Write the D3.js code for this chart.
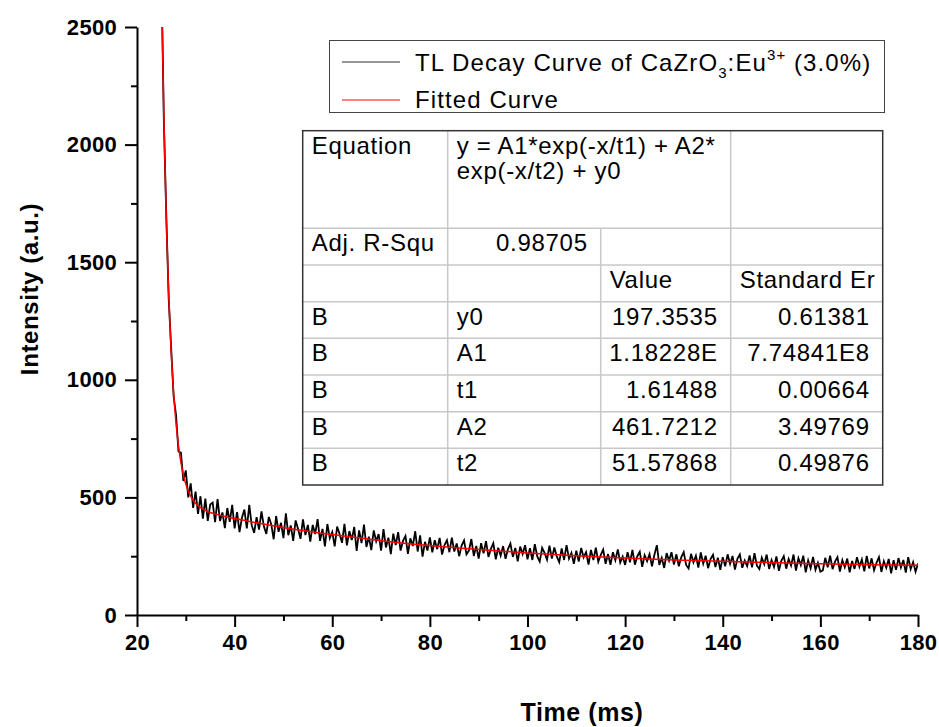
<!DOCTYPE html>
<html>
<head>
<meta charset="utf-8">
<style>
  body { margin: 0; background: #fff; }
  svg text { font-family: Arial, "Liberation Sans", sans-serif; fill: #000; }
  .axis path, .axis line { stroke: #000; stroke-width: 2; }
  .axis text { font-size: 22px; font-weight: bold; letter-spacing: 0.3px; }
  .title { font-size: 24px; font-weight: bold; letter-spacing: 0.6px; }
  .legend text { font-size: 24px; letter-spacing: 1.1px; }
  .tbl text { font-size: 24px; letter-spacing: 0.7px; }
</style>
</head>
<body>
<script src="https://cdnjs.cloudflare.com/ajax/libs/d3/7.8.5/d3.min.js"></script>
<svg width="939" height="727"></svg>
<script>
// recorded TL decay, sampled every 0.5 ms starting at 25 ms
var startTime = 25, sampleStep = 0.5;
var decayIntensity = [
  2730, 2100, 1700, 1340, 1135, 930, 850, 695, 690, 570, 615, 500, 560, 455, 525, 430, 505, 410, 495, 400, 470,
  478, 395, 493, 400, 436, 369, 455, 396, 468, 368,
  437, 352, 414, 448, 368, 468, 382, 349, 416, 363,
  441, 376, 345, 417, 386, 322, 421, 354, 392, 327,
  432, 339, 381, 315, 402, 366, 324, 407, 340, 383,
  312, 383, 344, 408, 315, 366, 292, 387, 327, 353,
  292, 376, 344, 307, 388, 296, 357, 319, 375, 273,
  360, 306, 384, 289, 333, 276, 360, 313, 344, 274,
  365, 287, 329, 259, 346, 297, 352, 274, 315, 336,
  260, 326, 293, 356, 270, 339, 248, 311, 274, 330,
  266, 318, 280, 328, 257, 297, 318, 267, 329, 270,
  304, 250, 295, 317, 258, 274, 323, 251, 294, 240,
  305, 262, 314, 247, 281, 305, 237, 286, 252, 293,
  239, 280, 304, 247, 285, 228, 291, 259, 297, 237,
  284, 234, 301, 249, 227, 285, 264, 235, 295, 240,
  287, 249, 225, 283, 234, 297, 240, 264, 218, 273,
  227, 285, 245, 267, 214, 277, 234, 286, 226, 255,
  278, 218, 259, 213, 267, 233, 279, 223, 249, 213,
  267, 224, 277, 214, 250, 269, 205, 254, 229, 259,
  207, 256, 297, 213, 243, 200, 263, 231, 267, 214,
  258, 207, 245, 267, 213, 198, 260, 224, 252, 202,
  266, 218, 252, 199, 238, 256, 204, 244, 192, 246,
  207, 258, 217, 251, 193, 239, 258, 201, 232, 208,
  253, 203, 263, 210, 195, 244, 216, 257, 196, 234,
  204, 249, 188, 230, 250, 197, 238, 210, 257, 189,
  242, 212, 252, 181, 232, 199, 247, 192, 222, 184,
  190, 243, 203, 252, 195, 227, 246, 185, 233, 203,
  240, 181, 230, 196, 246, 205, 236, 186, 251, 198,
  241, 190, 222, 246, 183, 229, 201, 238, 177, 233,
  192, 242, 202, 234, 180, 246, 195, 225, 184, 219
];

// fitted curve
var fitTime = [25.15, 25.5, 26, 26.5, 27, 27.5, 28, 28.5, 29, 29.5, 30, 30.5, 31, 31.5, 32, 32.5, 33, 34, 35, 36, 38,
               40, 45, 50, 55, 60, 70, 80, 90, 100, 110, 120, 130, 140, 150, 160, 170, 180];
var fitIntensity = [2518, 2119, 1680, 1357, 1119, 944, 814, 719, 648, 596, 557, 527, 505, 488, 475, 465, 457, 445, 436, 430, 419,
                    410, 390, 372, 356, 342, 316, 295, 278, 264, 252, 242, 234, 228, 223, 218, 214, 211];

var xTicks = [20, 40, 60, 80, 100, 120, 140, 160, 180];
var xMinor = [30, 50, 70, 90, 110, 130, 150, 170];
var yTicks = [0, 500, 1000, 1500, 2000, 2500];
var yMinor = [250, 750, 1250, 1750, 2250];

var tableSample = ["B", "B", "B", "B", "B"];
var tableParam = ["y0", "A1", "t1", "A2", "t2"];
var tableValue = ["197.3535", "1.18228E", "1.61488", "461.7212", "51.57868"];
var tableError = ["0.61381", "7.74841E8", "0.00664", "3.49769", "0.49876"];
var adjR2 = "0.98705";

var svg = d3.select("svg");
var x = d3.scaleLinear().domain([20, 180]).range([137, 918]);
var y = d3.scaleLinear().domain([0, 2500]).range([615, 27]);

svg.append("defs").append("clipPath").attr("id", "plot")
  .append("rect").attr("x", 137).attr("y", 27).attr("width", 781).attr("height", 588);

// minor ticks
svg.append("g").attr("class", "axis").attr("transform", "translate(0,615)")
  .call(d3.axisBottom(x).tickValues(xMinor).tickSize(6).tickFormat(""))
  .select(".domain").remove();
svg.append("g").attr("class", "axis").attr("transform", "translate(137,0)")
  .call(d3.axisLeft(y).tickValues(yMinor).tickSize(6).tickFormat(""))
  .select(".domain").remove();

// major ticks + axis lines
svg.append("g").attr("class", "axis").attr("transform", "translate(0,615)")
  .call(d3.axisBottom(x).tickValues(xTicks).tickSize(12).tickSizeOuter(0).tickPadding(7)
    .tickFormat(d3.format("d")));
svg.append("g").attr("class", "axis").attr("transform", "translate(137,0)")
  .call(d3.axisLeft(y).tickValues(yTicks).tickSize(12).tickSizeOuter(0).tickPadding(8)
    .tickFormat(d3.format("d")));

// curves
var line = d3.line()
  .x(function(d) { return x(d[0]); })
  .y(function(d) { return y(d[1]); });

var decay = decayIntensity.map(function(v, i) { return [startTime + i * sampleStep, v]; });
var fit = fitTime.map(function(t, i) { return [t, fitIntensity[i]]; });

svg.append("path").datum(decay)
  .attr("clip-path", "url(#plot)")
  .attr("fill", "none").attr("stroke", "#000").attr("stroke-width", 1.8)
  .attr("stroke-linejoin", "miter")
  .attr("d", line);

svg.append("path").datum(fit)
  .attr("clip-path", "url(#plot)")
  .attr("fill", "none").attr("stroke", "#ff0000").attr("stroke-width", 1.5)
  .attr("d", line.curve(d3.curveMonotoneX));

// axis titles
svg.append("text").attr("class", "title")
  .attr("transform", "translate(38,289) rotate(-90)")
  .attr("text-anchor", "middle")
  .text("Intensity (a.u.)");
svg.append("text").attr("class", "title")
  .attr("x", 582).attr("y", 721).attr("text-anchor", "middle")
  .style("font-size", "25px")
  .text("Time (ms)");

// legend
var lg = svg.append("g").attr("class", "legend");
lg.append("rect").attr("x", 329.5).attr("y", 40.5).attr("width", 555).attr("height", 72)
  .attr("fill", "#fff").attr("stroke", "#444").attr("stroke-width", 1);
lg.append("line").attr("x1", 342).attr("x2", 400).attr("y1", 62).attr("y2", 62)
  .attr("stroke", "#333").attr("stroke-width", 1);
lg.append("line").attr("x1", 342).attr("x2", 400).attr("y1", 100).attr("y2", 100)
  .attr("stroke", "#ff0000").attr("stroke-width", 1);
var t1 = lg.append("text").attr("x", 415).attr("y", 70.5);
t1.append("tspan").text("TL Decay Curve of CaZrO");
t1.append("tspan").attr("dy", 7).style("font-size", "15px").text("3");
t1.append("tspan").attr("dy", -7).text(":Eu");
t1.append("tspan").attr("dy", -11).style("font-size", "15px").text("3+");
t1.append("tspan").attr("dy", 11).text(" (3.0%)");
lg.append("text").attr("x", 415).attr("y", 108).text("Fitted Curve");

// fit results table
var colX = [302.7, 447.7, 600.7, 730.7, 882.7];
var rowY = [130.7, 228.3, 265, 301.7, 338.3, 375, 411.7, 448.3, 485];
var tb = svg.append("g").attr("class", "tbl");
tb.append("rect").attr("x", colX[0]).attr("y", rowY[0])
  .attr("width", colX[4] - colX[0]).attr("height", rowY[8] - rowY[0])
  .attr("fill", "#fff");
var grid = "#c8c8c8";
// horizontal inner lines
rowY.slice(1, 8).forEach(function(ry) {
  tb.append("line").attr("x1", colX[0]).attr("x2", colX[4]).attr("y1", ry).attr("y2", ry)
    .attr("stroke", grid).attr("stroke-width", 1.5);
});
// vertical inner lines
tb.append("line").attr("x1", colX[1]).attr("x2", colX[1]).attr("y1", rowY[0]).attr("y2", rowY[8])
  .attr("stroke", grid).attr("stroke-width", 1.5);
tb.append("line").attr("x1", colX[2]).attr("x2", colX[2]).attr("y1", rowY[1]).attr("y2", rowY[8])
  .attr("stroke", grid).attr("stroke-width", 1.5);
tb.append("line").attr("x1", colX[3]).attr("x2", colX[3]).attr("y1", rowY[0]).attr("y2", rowY[8])
  .attr("stroke", grid).attr("stroke-width", 1.5);
tb.append("rect").attr("x", colX[0]).attr("y", rowY[0])
  .attr("width", colX[4] - colX[0]).attr("height", rowY[8] - rowY[0])
  .attr("fill", "none").attr("stroke", "#333").attr("stroke-width", 1.5);

function cellText(col, row, txt, right) {
  tb.append("text")
    .attr("x", right ? colX[col + 1] - 13 : colX[col] + 9)
    .attr("y", rowY[row] + 23)
    .attr("text-anchor", right ? "end" : "start")
    .text(txt);
}
cellText(0, 0, "Equation");
cellText(1, 0, "y = A1*exp(-x/t1) + A2*");
tb.append("text").attr("x", colX[1] + 9).attr("y", rowY[0] + 48.5).text("exp(-x/t2) + y0");
cellText(0, 1, "Adj. R-Squ");
cellText(1, 1, adjR2, true);
cellText(2, 2, "Value");
cellText(3, 2, "Standard Er");
tableParam.forEach(function(p, i) {
  cellText(0, 3 + i, tableSample[i]);
  cellText(1, 3 + i, p);
  cellText(2, 3 + i, tableValue[i], true);
  cellText(3, 3 + i, tableError[i], true);
});
</script>
</body>
</html>
